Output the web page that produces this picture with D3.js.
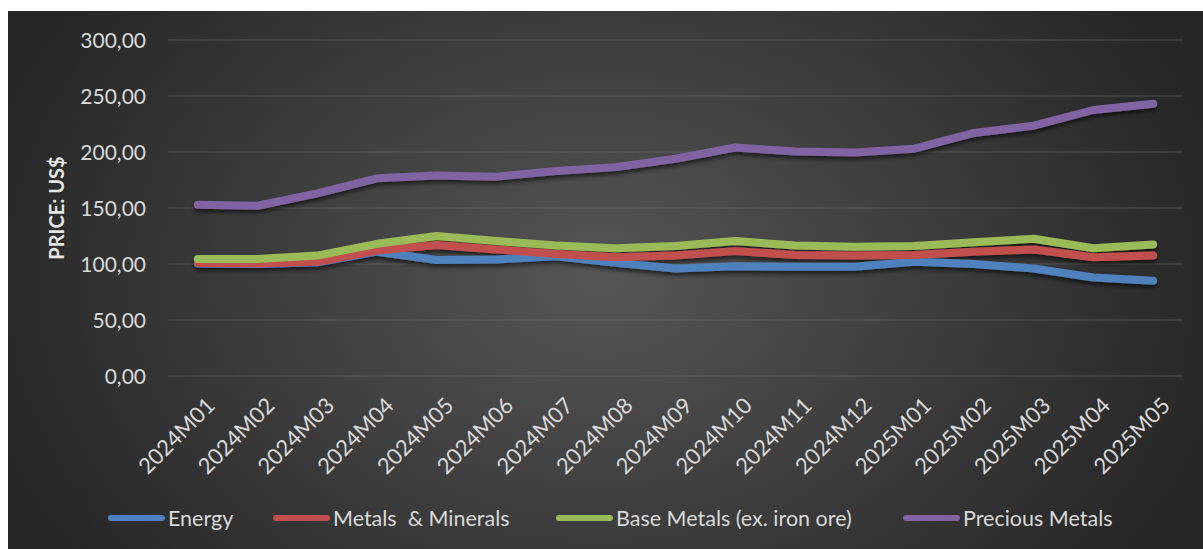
<!DOCTYPE html>
<html>
<head>
<meta charset="utf-8">
<script src="https://cdn.jsdelivr.net/npm/d3@7"></script>
<style>
  html, body { margin: 0; padding: 0; background: #ffffff; }
  svg { display: block; }
  text { font-family: Lato, "Open Sans", sans-serif; }
</style>
</head>
<body>
<svg id="chart" width="1203" height="549"></svg>
<script>
// Monthly commodity price indices
const months = ["2024M01","2024M02","2024M03","2024M04","2024M05","2024M06","2024M07","2024M08",
  "2024M09","2024M10","2024M11","2024M12","2025M01","2025M02","2025M03","2025M04","2025M05"];
const energy = [100.5, 100, 101.5, 111, 103.5, 104, 107, 101, 96, 98, 97.5, 97.5, 102, 100, 96, 88, 85];
const metalsMinerals = [101, 100.5, 102, 112, 117, 113, 109, 106, 107.5, 111.5, 108, 107.5, 108, 111, 113, 106, 107.5];
const baseMetals = [104.5, 104.5, 107.5, 118, 125, 120.5, 116.5, 114, 116, 120.5, 116.5, 115.5, 116, 119.5, 122.5, 114, 117.5];
const preciousMetals = [153, 152, 163, 176.5, 179, 178, 183, 186.5, 194, 204, 200.5, 199.5, 203, 217, 223.5, 237.5, 243];
const yTicks = [0, 50, 100, 150, 200, 250, 300];
const seriesNames = ["Energy", "Metals  & Minerals", "Base Metals (ex. iron ore)", "Precious Metals"];
const seriesColors = ["#4f81bd", "#c0504d", "#9bbb59", "#8064a2"];

const series = [energy, metalsMinerals, baseMetals, preciousMetals].map((values, i) => ({
  name: seriesNames[i], color: seriesColors[i], values
}));

const svg = d3.select("#chart");
const defs = svg.append("defs");

const grad = defs.append("radialGradient")
  .attr("id", "bg").attr("gradientUnits", "userSpaceOnUse")
  .attr("cx", 600).attr("cy", 280).attr("r", 640)
  .attr("gradientTransform", "translate(600,280) scale(1,0.75) translate(-600,-280)");
grad.append("stop").attr("offset", "0%").attr("stop-color", "#555555");
grad.append("stop").attr("offset", "100%").attr("stop-color", "#262626");

const shadow = defs.append("filter").attr("id", "shadow")
  .attr("x", "-5%").attr("y", "-30%").attr("width", "110%").attr("height", "160%");
shadow.append("feDropShadow").attr("dx", 0).attr("dy", 3).attr("stdDeviation", 2.2)
  .attr("flood-color", "#000").attr("flood-opacity", 0.6);

// chart area
svg.append("rect").attr("x", 8).attr("y", 11).attr("width", 1195).attr("height", 538)
  .attr("fill", "url(#bg)");

const x = d3.scalePoint().domain(months).range([168, 1183]).padding(0.5);
const y = d3.scaleLinear().domain([0, 300]).range([376, 40]);

// horizontal gridlines
svg.append("g").selectAll("line").data(yTicks).join("line")
  .attr("x1", 168).attr("x2", 1183)
  .attr("y1", d => y(d)).attr("y2", d => y(d))
  .attr("stroke", "#6a6a6a").attr("stroke-opacity", 0.6).attr("stroke-width", 1);

// y axis labels
const yAxis = d3.axisLeft(y).tickValues(yTicks)
  .tickFormat(d => d3.format(".2f")(d).replace(".", ","))
  .tickSize(0).tickPadding(0);
const gy = svg.append("g").attr("transform", "translate(146,0)").call(yAxis);
gy.select(".domain").remove();
gy.selectAll("text").attr("fill", "#d9d9d9").style("font-size", "21px")
  .style("font-family", "Lato, sans-serif").attr("dy", "0.35em");

// y axis title
svg.append("text")
  .attr("transform", "translate(64,208) rotate(-90)")
  .attr("text-anchor", "middle")
  .attr("fill", "#e6e6e6").style("font-size", "20px").style("font-weight", "bold")
  .text("PRICE: US$");

// x axis labels
const xAxis = d3.axisBottom(x).tickSize(0).tickPadding(0);
const gx = svg.append("g").attr("transform", "translate(0,396)").call(xAxis);
gx.select(".domain").remove();
gx.selectAll("text")
  .attr("fill", "#d9d9d9").style("font-size", "22px").style("font-family", "Lato, sans-serif")
  .attr("text-anchor", "end").attr("dy", "0.7em").attr("dx", 0)
  .attr("transform", "translate(7,0) rotate(-45)");

// series lines
const line = d3.line().x((d, i) => x(months[i])).y(d => y(d));
svg.append("g").attr("filter", "url(#shadow)")
  .selectAll("path").data(series).join("path")
  .attr("d", d => line(d.values))
  .attr("fill", "none").attr("stroke", d => d.color)
  .attr("stroke-width", 8).attr("stroke-linecap", "round").attr("stroke-linejoin", "round");

// legend
const legendX = [108, 273, 556, 903];
const lg = svg.append("g").selectAll("g").data(series).join("g")
  .attr("transform", (d, i) => `translate(${legendX[i]},518)`);
lg.append("line").attr("x1", 3).attr("x2", 54).attr("y1", 0).attr("y2", 0)
  .attr("stroke", d => d.color).attr("stroke-width", 6).attr("stroke-linecap", "round");
lg.append("text").attr("x", 60).attr("dy", "0.35em")
  .attr("fill", "#d9d9d9").style("font-size", "21.5px")
  .style("white-space", "pre").attr("xml:space", "preserve")
  .text(d => d.name);
</script>
</body>
</html>
